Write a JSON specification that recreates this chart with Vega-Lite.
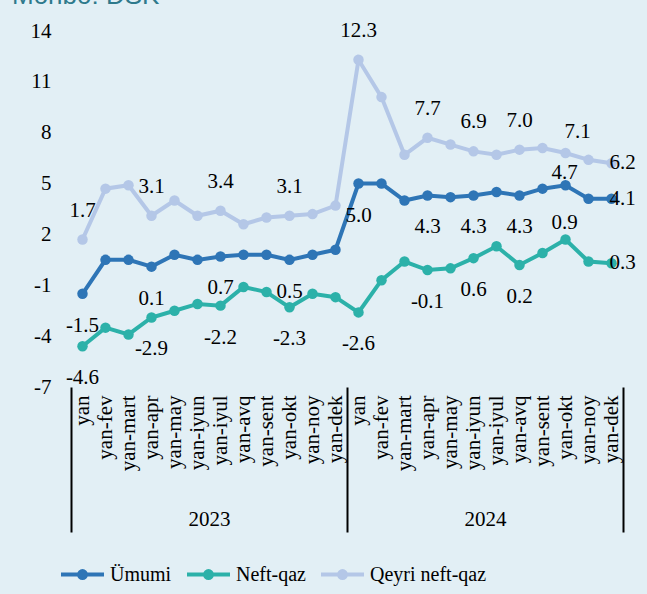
{
  "$schema": "https://vega.github.io/schema/vega-lite/v6.json",
  "width": 552,
  "height": 356,
  "autosize": {"type": "none"},
  "padding": {"left": 71, "top": 31, "right": 24, "bottom": 207},
  "background": "#e2eff5",
  "title": {"text": "Mənbə: DSK", "anchor": "start", "frame": "group", "font": "Liberation Sans", "fontSize": 26, "fontWeight": "normal", "color": "#2E7A8C", "dx": -59, "dy": -11, "offset": 0},
  "config": {
    "view": {"stroke": null},
    "font": "Liberation Serif, Times New Roman, serif",
    "axis": {"labelFont": "Liberation Serif, Times New Roman, serif", "titleFont": "Liberation Serif, Times New Roman, serif"},
    "legend": {"labelFont": "Liberation Serif, Times New Roman, serif", "titleFont": "Liberation Serif, Times New Roman, serif"},
    "style": {"guide-label": {"font": "Liberation Serif, Times New Roman, serif"}},
    "locale": {"number": {"decimal": ".", "thousands": ",", "grouping": [3], "currency": ["$", ""], "minus": "-"}}
  },
  "datasets": {
    "d": [
      {"key": "2023 yan", "series": "Ümumi", "v": -1.5},
      {"key": "2023 yan-fev", "series": "Ümumi", "v": 0.5},
      {"key": "2023 yan-mart", "series": "Ümumi", "v": 0.5},
      {"key": "2023 yan-apr", "series": "Ümumi", "v": 0.1},
      {"key": "2023 yan-may", "series": "Ümumi", "v": 0.8},
      {"key": "2023 yan-iyun", "series": "Ümumi", "v": 0.5},
      {"key": "2023 yan-iyul", "series": "Ümumi", "v": 0.7},
      {"key": "2023 yan-avq", "series": "Ümumi", "v": 0.8},
      {"key": "2023 yan-sent", "series": "Ümumi", "v": 0.8},
      {"key": "2023 yan-okt", "series": "Ümumi", "v": 0.5},
      {"key": "2023 yan-noy", "series": "Ümumi", "v": 0.8},
      {"key": "2023 yan-dek", "series": "Ümumi", "v": 1.1},
      {"key": "2024 yan", "series": "Ümumi", "v": 5.0},
      {"key": "2024 yan-fev", "series": "Ümumi", "v": 5.0},
      {"key": "2024 yan-mart", "series": "Ümumi", "v": 4.0},
      {"key": "2024 yan-apr", "series": "Ümumi", "v": 4.3},
      {"key": "2024 yan-may", "series": "Ümumi", "v": 4.2},
      {"key": "2024 yan-iyun", "series": "Ümumi", "v": 4.3},
      {"key": "2024 yan-iyul", "series": "Ümumi", "v": 4.5},
      {"key": "2024 yan-avq", "series": "Ümumi", "v": 4.3},
      {"key": "2024 yan-sent", "series": "Ümumi", "v": 4.7},
      {"key": "2024 yan-okt", "series": "Ümumi", "v": 4.9},
      {"key": "2024 yan-noy", "series": "Ümumi", "v": 4.1},
      {"key": "2024 yan-dek", "series": "Ümumi", "v": 4.1},
      {"key": "2023 yan", "series": "Neft-qaz", "v": -4.6},
      {"key": "2023 yan-fev", "series": "Neft-qaz", "v": -3.5},
      {"key": "2023 yan-mart", "series": "Neft-qaz", "v": -3.9},
      {"key": "2023 yan-apr", "series": "Neft-qaz", "v": -2.9},
      {"key": "2023 yan-may", "series": "Neft-qaz", "v": -2.5},
      {"key": "2023 yan-iyun", "series": "Neft-qaz", "v": -2.1},
      {"key": "2023 yan-iyul", "series": "Neft-qaz", "v": -2.2},
      {"key": "2023 yan-avq", "series": "Neft-qaz", "v": -1.1},
      {"key": "2023 yan-sent", "series": "Neft-qaz", "v": -1.4},
      {"key": "2023 yan-okt", "series": "Neft-qaz", "v": -2.3},
      {"key": "2023 yan-noy", "series": "Neft-qaz", "v": -1.5},
      {"key": "2023 yan-dek", "series": "Neft-qaz", "v": -1.7},
      {"key": "2024 yan", "series": "Neft-qaz", "v": -2.6},
      {"key": "2024 yan-fev", "series": "Neft-qaz", "v": -0.7},
      {"key": "2024 yan-mart", "series": "Neft-qaz", "v": 0.4},
      {"key": "2024 yan-apr", "series": "Neft-qaz", "v": -0.1},
      {"key": "2024 yan-may", "series": "Neft-qaz", "v": 0.0},
      {"key": "2024 yan-iyun", "series": "Neft-qaz", "v": 0.6},
      {"key": "2024 yan-iyul", "series": "Neft-qaz", "v": 1.3},
      {"key": "2024 yan-avq", "series": "Neft-qaz", "v": 0.2},
      {"key": "2024 yan-sent", "series": "Neft-qaz", "v": 0.9},
      {"key": "2024 yan-okt", "series": "Neft-qaz", "v": 1.7},
      {"key": "2024 yan-noy", "series": "Neft-qaz", "v": 0.4},
      {"key": "2024 yan-dek", "series": "Neft-qaz", "v": 0.3},
      {"key": "2023 yan", "series": "Qeyri neft-qaz", "v": 1.7},
      {"key": "2023 yan-fev", "series": "Qeyri neft-qaz", "v": 4.7},
      {"key": "2023 yan-mart", "series": "Qeyri neft-qaz", "v": 4.9},
      {"key": "2023 yan-apr", "series": "Qeyri neft-qaz", "v": 3.1},
      {"key": "2023 yan-may", "series": "Qeyri neft-qaz", "v": 4.0},
      {"key": "2023 yan-iyun", "series": "Qeyri neft-qaz", "v": 3.1},
      {"key": "2023 yan-iyul", "series": "Qeyri neft-qaz", "v": 3.4},
      {"key": "2023 yan-avq", "series": "Qeyri neft-qaz", "v": 2.6},
      {"key": "2023 yan-sent", "series": "Qeyri neft-qaz", "v": 3.0},
      {"key": "2023 yan-okt", "series": "Qeyri neft-qaz", "v": 3.1},
      {"key": "2023 yan-noy", "series": "Qeyri neft-qaz", "v": 3.2},
      {"key": "2023 yan-dek", "series": "Qeyri neft-qaz", "v": 3.7},
      {"key": "2024 yan", "series": "Qeyri neft-qaz", "v": 12.3},
      {"key": "2024 yan-fev", "series": "Qeyri neft-qaz", "v": 10.1},
      {"key": "2024 yan-mart", "series": "Qeyri neft-qaz", "v": 6.7},
      {"key": "2024 yan-apr", "series": "Qeyri neft-qaz", "v": 7.7},
      {"key": "2024 yan-may", "series": "Qeyri neft-qaz", "v": 7.3},
      {"key": "2024 yan-iyun", "series": "Qeyri neft-qaz", "v": 6.9},
      {"key": "2024 yan-iyul", "series": "Qeyri neft-qaz", "v": 6.7},
      {"key": "2024 yan-avq", "series": "Qeyri neft-qaz", "v": 7.0},
      {"key": "2024 yan-sent", "series": "Qeyri neft-qaz", "v": 7.1},
      {"key": "2024 yan-okt", "series": "Qeyri neft-qaz", "v": 6.8},
      {"key": "2024 yan-noy", "series": "Qeyri neft-qaz", "v": 6.4},
      {"key": "2024 yan-dek", "series": "Qeyri neft-qaz", "v": 6.2}
    ]
  },
  "layer": [
    {
      "data": {"name": "d"},
      "encoding": {
        "x": {
          "field": "key", "type": "ordinal",
          "scale": {"type": "point", "padding": 0.5, "domain": ["2023 yan","2023 yan-fev","2023 yan-mart","2023 yan-apr","2023 yan-may","2023 yan-iyun","2023 yan-iyul","2023 yan-avq","2023 yan-sent","2023 yan-okt","2023 yan-noy","2023 yan-dek","2024 yan","2024 yan-fev","2024 yan-mart","2024 yan-apr","2024 yan-may","2024 yan-iyun","2024 yan-iyul","2024 yan-avq","2024 yan-sent","2024 yan-okt","2024 yan-noy","2024 yan-dek"]},
          "axis": {"title": null, "labelExpr": "slice(datum.value, 5)", "labelAngle": -90, "ticks": false, "domain": false, "grid": false, "labelFont": "Liberation Serif, Times New Roman, serif", "labelFontSize": 21, "labelColor": "black", "labelPadding": 8, "labelOverlap": false}
        },
        "y": {
          "field": "v", "type": "quantitative",
          "scale": {"domain": [-7, 14], "nice": false, "zero": false},
          "axis": {"title": null, "values": [-7, -4, -1, 2, 5, 8, 11, 14], "ticks": false, "domain": false, "grid": false, "labelFont": "Liberation Serif, Times New Roman, serif", "labelFontSize": 21, "labelColor": "black", "labelPadding": 20}
        }
      },
      "layer": [
        {
          "data": {"values": [{"z": 0}]},
          "mark": {"type": "rule", "color": "black", "strokeWidth": 2},
          "encoding": {"y": {"datum": 0}, "x": null}
        },
        {
          "mark": {"type": "line", "strokeWidth": 4},
          "encoding": {
            "color": {
              "field": "series", "type": "nominal",
              "scale": {"domain": ["Ümumi", "Neft-qaz", "Qeyri neft-qaz"], "range": ["#2E75B6", "#2CB1A9", "#B4C7E7"]},
              "legend": {
                "orient": "none", "legendX": -12, "legendY": 520, "direction": "horizontal", "title": null,
                "symbolType": "M-1,0L1,0M0.16,0A0.16,0.16,0,1,1,-0.16,0A0.16,0.16,0,1,1,0.16,0",
                "symbolSize": 1849, "symbolStrokeWidth": 4, "symbolOpacity": 1,
                "labelFont": "Liberation Serif, Times New Roman, serif", "labelFontSize": 20, "labelColor": "black", "labelOffset": 4,
                "columnPadding": 7, "padding": 0,
                "encode": {"symbols": {"update": {"fill": {"scale": "color", "field": "value"}, "stroke": {"scale": "color", "field": "value"}}}, "labels": {"update": {"font": {"value": "Liberation Serif, Times New Roman, serif"}}}}
              }
            }
          }
        },
        {
          "mark": {"type": "circle", "size": 110, "opacity": 1},
          "encoding": {"color": {"field": "series", "type": "nominal"}}
        },
        {
          "transform": [{"filter": "datum.series == 'Qeyri neft-qaz' && indexof(['2023 yan','2023 yan-apr','2023 yan-iyul','2023 yan-okt','2024 yan','2024 yan-apr','2024 yan-iyun','2024 yan-avq'], datum.key) >= 0"}],
          "mark": {"type": "text", "font": "Liberation Serif", "fontSize": 21, "color": "black", "baseline": "middle", "dy": -29},
          "encoding": {"text": {"field": "v", "type": "quantitative", "format": ".1f"}}
        },
        {
          "transform": [{"filter": "datum.series != 'Qeyri neft-qaz' && indexof(['2023 yan','2023 yan-apr','2023 yan-iyul','2023 yan-okt','2024 yan','2024 yan-apr','2024 yan-iyun','2024 yan-avq'], datum.key) >= 0"}],
          "mark": {"type": "text", "font": "Liberation Serif", "fontSize": 21, "color": "black", "baseline": "middle", "dy": 32},
          "encoding": {"text": {"field": "v", "type": "quantitative", "format": ".1f"}}
        },
        {
          "transform": [{"filter": "datum.series == 'Ümumi' && datum.key == '2024 yan-sent'"}],
          "mark": {"type": "text", "font": "Liberation Serif", "fontSize": 21, "color": "black", "baseline": "middle", "dx": 22, "dy": -16},
          "encoding": {"text": {"field": "v", "type": "quantitative", "format": ".1f"}}
        },
        {
          "transform": [{"filter": "datum.series == 'Qeyri neft-qaz' && datum.key == '2024 yan-sent'"}],
          "mark": {"type": "text", "font": "Liberation Serif", "fontSize": 21, "color": "black", "baseline": "middle", "dx": 35, "dy": -16},
          "encoding": {"text": {"field": "v", "type": "quantitative", "format": ".1f"}}
        },
        {
          "transform": [{"filter": "datum.series == 'Neft-qaz' && datum.key == '2024 yan-sent'"}],
          "mark": {"type": "text", "font": "Liberation Serif", "fontSize": 21, "color": "black", "baseline": "middle", "dx": 22, "dy": -30},
          "encoding": {"text": {"field": "v", "type": "quantitative", "format": ".1f"}}
        },
        {
          "transform": [{"filter": "datum.key == '2024 yan-dek'"}],
          "mark": {"type": "text", "font": "Liberation Serif", "fontSize": 21, "color": "black", "baseline": "middle", "align": "left", "dx": -2},
          "encoding": {"text": {"field": "v", "type": "quantitative", "format": ".1f"}}
        }
      ]
    },
    {
      "data": {"values": [{"year": "2023"}, {"year": "2024"}]},
      "mark": {"type": "point", "opacity": 0},
      "encoding": {
        "x": {
          "field": "year", "type": "ordinal",
          "scale": {"type": "band", "paddingInner": 0, "paddingOuter": 0},
          "axis": {"title": null, "orient": "bottom", "domain": false, "ticks": true, "tickBand": "extent", "tickSize": 145, "tickWidth": 2, "tickColor": "black", "labelAngle": 0, "labelBaseline": "top", "labelPadding": -24, "labelFont": "Liberation Serif, Times New Roman, serif", "labelFontSize": 21, "labelColor": "black", "grid": false}
        }
      }
    }
  ],
  "resolve": {"scale": {"x": "independent"}}
}
